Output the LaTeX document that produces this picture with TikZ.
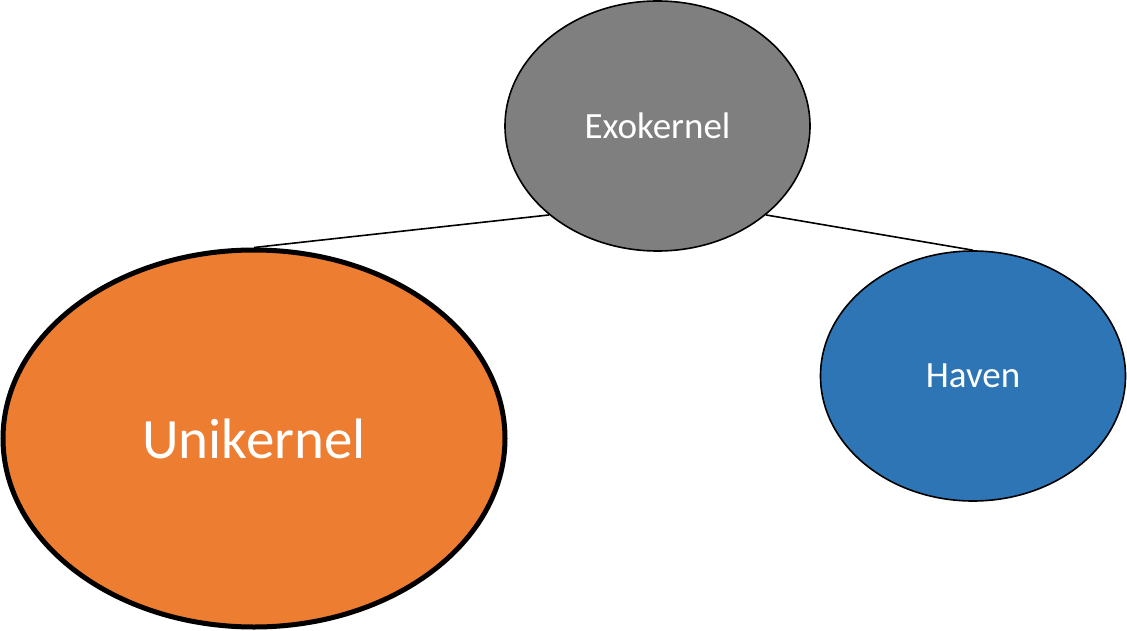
\documentclass[tikz,border=0pt]{standalone}
\usepackage{fontspec}
\setmainfont{Carlito}
\usepackage{tikz}
\usetikzlibrary{shapes.geometric}
\definecolor{kerngrau}{HTML}{7F7F7F}
\definecolor{kernorange}{HTML}{ED7D31}
\definecolor{kernblau}{HTML}{2E75B6}

\begin{document}
\begin{tikzpicture}[x=1pt, y=-1pt,
        kern/.style={ellipse, draw=black, line width=1.6pt, inner sep=0pt,
            text=white, minimum width=305pt, minimum height=250pt, font=\fontsize{37}{40}\selectfont},
        verbindung/.style={line width=1.6pt, black}]
        % Rahmen
        \useasboundingbox (0,0) rectangle (1127,631);

        % Ellipsen
        \node[kern, fill=kerngrau] (exo) at (657.5,126) {Exokernel};
        \node[kern, fill=kernorange, line width=5pt, minimum width=502pt,
            minimum height=377pt, font=\fontsize{57}{60}\selectfont] (uni) at (254,438.5) {Unikernel};
        \node[kern, fill=kernblau] (haven) at (973,376) {Haven};

        % Linien
        \draw[verbindung] (exo.south west) -- (uni.north);
        \draw[verbindung] (exo.south east) -- (haven.north);
    \end{tikzpicture}
\end{document}
